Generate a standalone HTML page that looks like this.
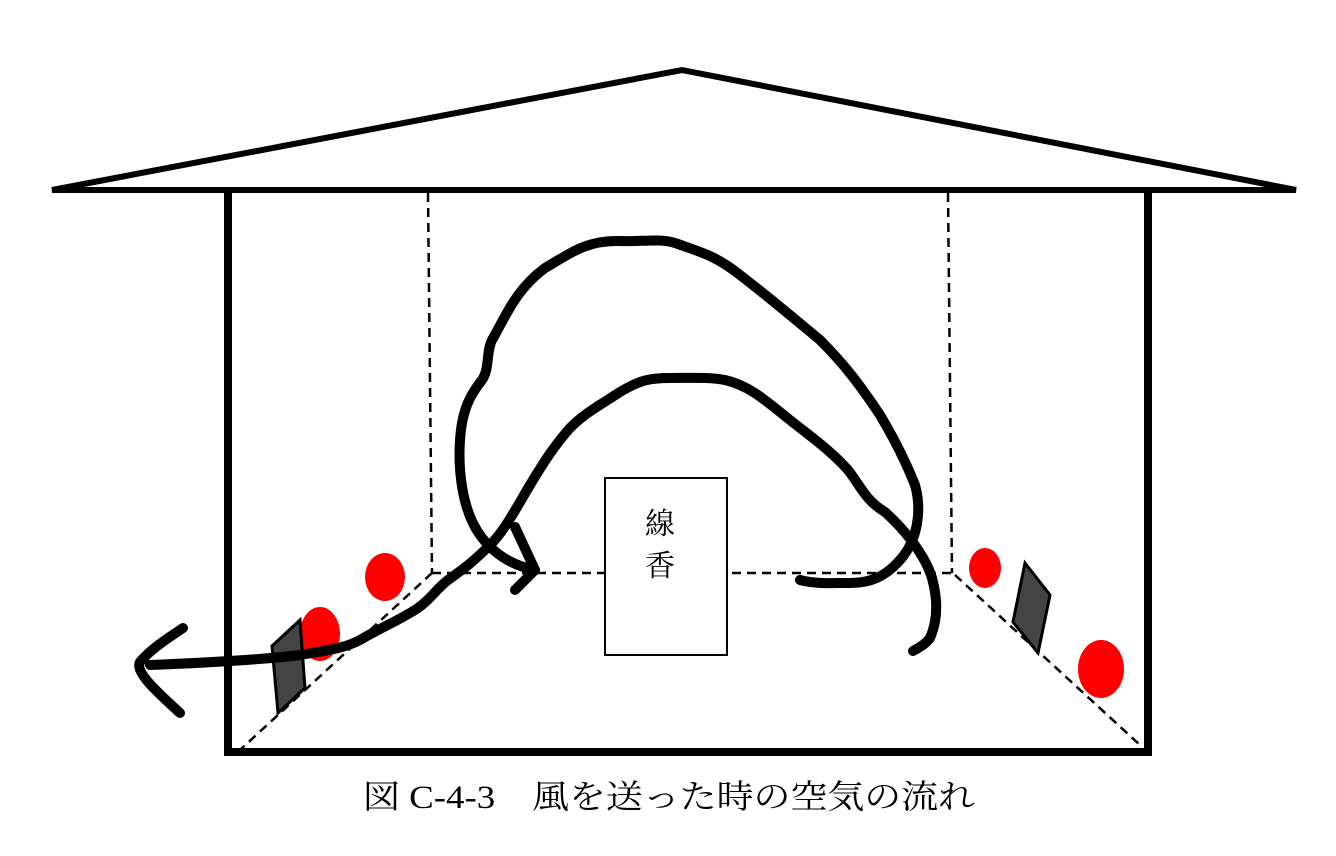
<!DOCTYPE html>
<html><head><meta charset="utf-8"><style>
html,body{margin:0;padding:0;background:#fff;}
svg{display:block;}
</style></head><body>
<svg width="1336" height="856" viewBox="0 0 1336 856" xmlns="http://www.w3.org/2000/svg">
<g fill="none" stroke="#000">
<polygon points="52,190 682,70 1296,190" stroke-width="6" stroke-linejoin="miter"/>
<line x1="52" y1="190" x2="1296" y2="190" stroke-width="6"/>
<polyline points="228,192 228,752 1148,752 1148,192" stroke-width="8"/>
<g stroke-width="2.5" stroke-dasharray="9,6">
<line x1="428" y1="193" x2="432" y2="573"/>
<line x1="948" y1="193" x2="952" y2="573"/>
<line x1="432" y1="573" x2="952" y2="573"/>
<line x1="432" y1="573" x2="240" y2="750"/>
<line x1="955" y1="575" x2="1140" y2="745"/>
</g>
</g>
<rect x="605" y="478" width="122" height="177" fill="#fff" stroke="#000" stroke-width="2"/>
<text x="660" y="534" font-family="'Liberation Serif','Noto Serif CJK SC',serif" font-size="30" text-anchor="middle">線</text>
<text x="660" y="576" font-family="'Liberation Serif','Noto Serif CJK SC',serif" font-size="30" text-anchor="middle">香</text>
<g fill="#ff0000">
<ellipse cx="385" cy="577" rx="20" ry="24"/>
<ellipse cx="320" cy="634" rx="20" ry="27"/>
<ellipse cx="985" cy="568" rx="16" ry="20"/>
<ellipse cx="1101" cy="669" rx="23" ry="29"/>
</g>
<g fill="#444" stroke="#000" stroke-width="3" stroke-linejoin="miter">
<polygon points="272,646 300,620 305,688 278,713"/>
<polygon points="1025,563 1050,595 1038,653 1013,622"/>
</g>
<g fill="none" stroke="#000" stroke-width="10" stroke-linecap="round" stroke-linejoin="round">
<path d="M535,570 C515,566 495,556 480,535 C462,510 458,470 460,440 C462,410 470,395 482,380 C490,368 486,352 492,340 C505,318 515,290 545,268 C575,250 590,240 620,241 C640,242 660,238 675,243 C700,252 715,255 740,275 C770,298 790,315 820,340 C845,365 860,385 880,415 C895,440 905,460 915,485 C922,510 918,540 900,560 C885,577 870,583 850,583 C830,583 815,584 800,580"/>
<path d="M515,527 L535,570 L515,590"/>
<path d="M150,665 C200,663 260,660 300,655 C330,650 345,648 360,640 C380,628 400,620 418,608 C432,598 435,590 448,580 C465,568 475,560 490,545 C505,530 515,510 530,485 C545,460 555,445 570,428 C585,413 600,405 620,392 C640,380 650,378 670,378 C690,378 710,377 725,380 C750,386 765,400 790,420 C815,440 830,450 848,470 C860,485 865,500 885,512 C905,530 925,555 932,578 C938,600 938,620 930,638 C925,645 918,648 913,651"/>
<path d="M183,628 C165,640 150,650 140,662 C135,672 155,690 180,713"/>
</g>
<text x="363" y="808" font-family="'Liberation Serif','Noto Serif CJK JP',serif" font-size="33" textLength="612" lengthAdjust="spacingAndGlyphs">図 C-4-3　風を送った時の空気の流れ</text>
</svg>
</body></html>
